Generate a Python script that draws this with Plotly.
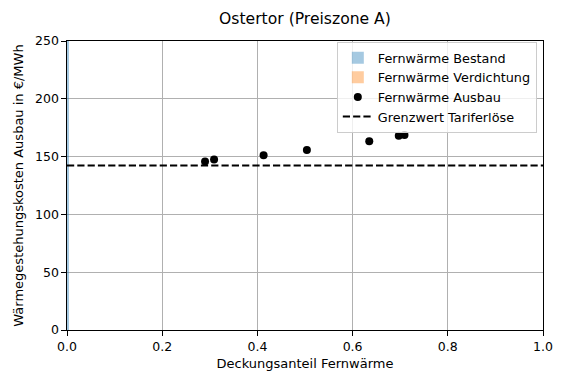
import plotly.graph_objects as go

# Data
ausbau_share = [0.290, 0.309, 0.413, 0.504, 0.635, 0.697, 0.709]
ausbau_cost = [145.7, 147.4, 151.1, 155.8, 163.2, 168.1, 168.7]
bestand_share = [0.005]
bestand_cost = [260.0]
verdichtung_share = [0.0]
verdichtung_cost = [0.0]
grenzwert = 142.2
x_ticks = [0.0, 0.2, 0.4, 0.6, 0.8, 1.0]
y_ticks = [0, 50, 100, 150, 200, 250]

FONT = "DejaVu Sans"
fig = go.Figure()

fig.add_trace(go.Bar(
    x=[s / 2 for s in bestand_share], y=bestand_cost, width=bestand_share,
    name="Fernwärme Bestand", marker=dict(color="rgba(31,119,180,0.4)", line=dict(width=0)),
))
fig.add_trace(go.Bar(
    x=[s / 2 for s in verdichtung_share], y=verdichtung_cost, width=[0.0001],
    name="Fernwärme Verdichtung", marker=dict(color="rgba(255,127,14,0.4)", line=dict(width=0)),
))
fig.add_trace(go.Scatter(
    x=ausbau_share, y=ausbau_cost, mode="markers", name="Fernwärme Ausbau",
    marker=dict(color="black", size=8),
))
fig.add_trace(go.Scatter(
    x=[0, 1], y=[grenzwert, grenzwert], mode="lines", name="Grenzwert Tariferlöse",
    line=dict(color="black", width=2, dash="7.2px,3.1px"),
))

axis_common = dict(
    showline=True, linecolor="black", linewidth=1, mirror=True,
    ticks="outside", ticklen=4.6, tickcolor="black", tickwidth=1,
    showgrid=True, gridcolor="#b0b0b0", gridwidth=1, zeroline=False,
    tickfont=dict(family=FONT, size=12.5, color="black"),
    automargin=False,
)

W, H = 550, 365  # page body has an 8px margin in the browser window
fig.update_layout(
    width=W, height=H,
    margin=dict(l=59, r=15, t=33, b=43, pad=0),
    paper_bgcolor="white", plot_bgcolor="white",
    font=dict(family=FONT, size=13, color="black"),
    title=dict(text="Ostertor (Preiszone A)", x=297 / W, xanchor="center",
               y=1 - 11 / H, yanchor="middle", yref="container",
               font=dict(family=FONT, size=15.6, color="black")),
    xaxis=dict(range=[0, 1], tickvals=x_ticks, ticktext=[f"{v:.1f}" for v in x_ticks],
               title=dict(text="Deckungsanteil Fernwärme", standoff=6,
                          font=dict(family=FONT, size=13)), **axis_common),
    yaxis=dict(range=[0, 250], tickvals=y_ticks, ticktext=[str(v) for v in y_ticks],
               title=dict(text="Wärmegestehungskosten Ausbau in €/MWh", standoff=8,
                          font=dict(family=FONT, size=13)), **axis_common),
    legend=dict(x=0.987, y=0.997, xanchor="right", yanchor="top",
                bgcolor="rgba(255,255,255,0.8)", bordercolor="#cccccc", borderwidth=1,
                font=dict(family=FONT, size=12.8), tracegroupgap=0, itemwidth=30),
    showlegend=True,
    bargap=0,
)

fig.write_html("out.html")
